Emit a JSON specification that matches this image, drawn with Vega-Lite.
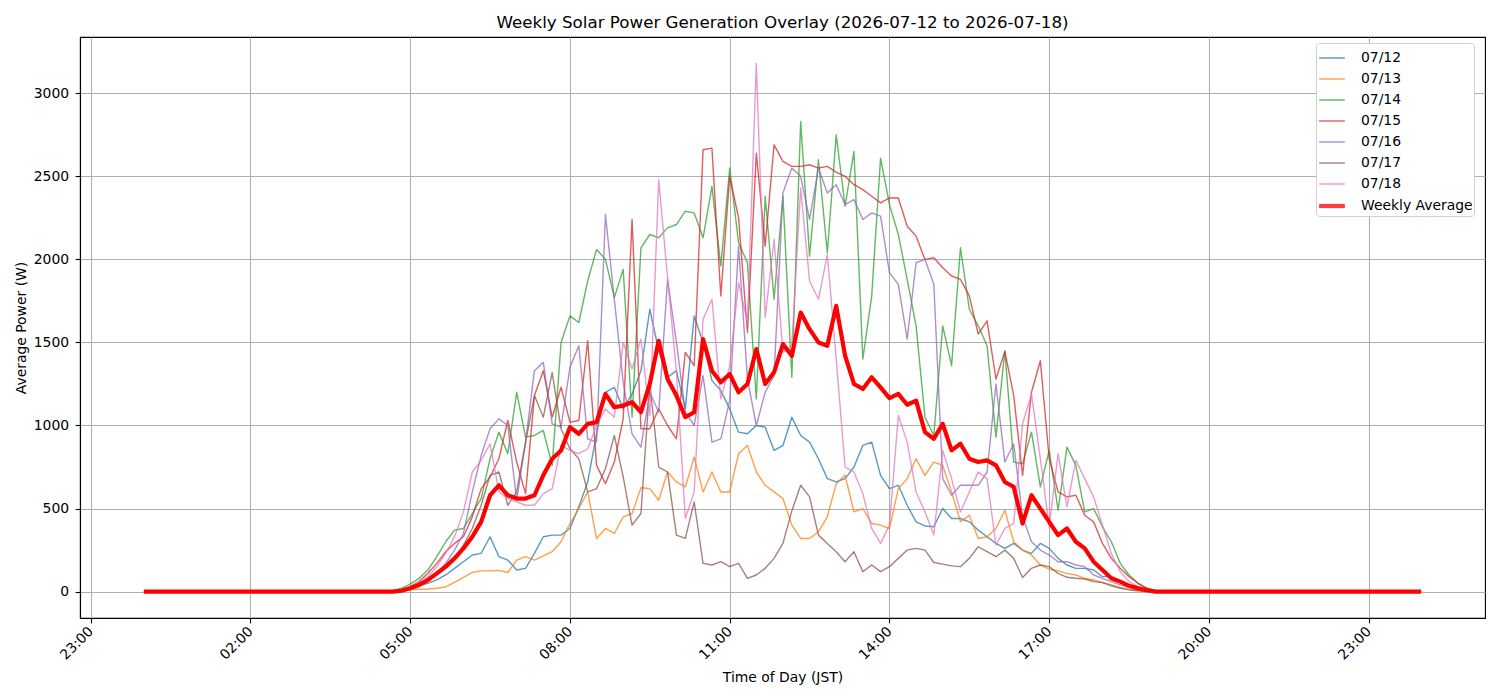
{
  "$schema": "https://vega.github.io/schema/vega-lite/v6.json",
  "width": 1405,
  "height": 581,
  "autosize": {"type": "none"},
  "padding": {"left": 80, "top": 37, "right": 15, "bottom": 82},
  "background": "white",
  "title": {"text": "Weekly Solar Power Generation Overlay (2026-07-12 to 2026-07-18)", "font": "DejaVu Sans", "fontSize": 16.7, "fontWeight": "normal", "color": "black", "anchor": "middle", "offset": 5},
  "data": {
    "format": {"parse": {"t": "date:'%H:%M'"}},
    "values": [
      {"t": "00:00", "07/12": 0, "07/13": 0, "07/14": 0, "07/15": 0, "07/16": 0, "07/17": 0, "07/18": 0, "Weekly Average": 0},
      {"t": "04:30", "07/12": 0, "07/13": 0, "07/14": 0, "07/15": 0, "07/16": 0, "07/17": 0, "07/18": 0, "Weekly Average": 0},
      {"t": "04:40", "07/12": 0, "07/13": 0, "07/14": 5, "07/15": 0, "07/16": 0, "07/17": 0, "07/18": 0, "Weekly Average": 0},
      {"t": "04:50", "07/12": 5, "07/13": 3, "07/14": 20, "07/15": 10, "07/16": 5, "07/17": 5, "07/18": 10, "Weekly Average": 5},
      {"t": "05:00", "07/12": 20, "07/13": 12, "07/14": 45, "07/15": 30, "07/16": 20, "07/17": 20, "07/18": 25, "Weekly Average": 20},
      {"t": "05:10", "07/12": 35, "07/13": 14, "07/14": 80, "07/15": 60, "07/16": 40, "07/17": 40, "07/18": 50, "Weekly Average": 40},
      {"t": "05:20", "07/12": 50, "07/13": 16, "07/14": 130, "07/15": 110, "07/16": 70, "07/17": 70, "07/18": 90, "Weekly Average": 70},
      {"t": "05:30", "07/12": 70, "07/13": 20, "07/14": 210, "07/15": 170, "07/16": 110, "07/17": 100, "07/18": 150, "Weekly Average": 110},
      {"t": "05:40", "07/12": 100, "07/13": 28, "07/14": 300, "07/15": 240, "07/16": 170, "07/17": 140, "07/18": 230, "Weekly Average": 150},
      {"t": "05:50", "07/12": 140, "07/13": 55, "07/14": 370, "07/15": 290, "07/16": 250, "07/17": 200, "07/18": 330, "Weekly Average": 200},
      {"t": "06:00", "07/12": 180, "07/13": 86, "07/14": 380, "07/15": 330, "07/16": 350, "07/17": 280, "07/18": 480, "Weekly Average": 260},
      {"t": "06:10", "07/12": 220, "07/13": 115, "07/14": 470, "07/15": 450, "07/16": 600, "07/17": 380, "07/18": 720, "Weekly Average": 330},
      {"t": "06:20", "07/12": 230, "07/13": 125, "07/14": 560, "07/15": 620, "07/16": 820, "07/17": 520, "07/18": 790, "Weekly Average": 420},
      {"t": "06:30", "07/12": 330, "07/13": 125, "07/14": 800, "07/15": 690, "07/16": 980, "07/17": 700, "07/18": 890, "Weekly Average": 580},
      {"t": "06:40", "07/12": 210, "07/13": 128, "07/14": 960, "07/15": 800, "07/16": 1040, "07/17": 720, "07/18": 600, "Weekly Average": 640},
      {"t": "06:50", "07/12": 190, "07/13": 115, "07/14": 830, "07/15": 1030, "07/16": 1000, "07/17": 520, "07/18": 560, "Weekly Average": 580},
      {"t": "07:00", "07/12": 130, "07/13": 190, "07/14": 1200, "07/15": 780, "07/16": 550, "07/17": 600, "07/18": 540, "Weekly Average": 560},
      {"t": "07:10", "07/12": 140, "07/13": 210, "07/14": 930, "07/15": 590, "07/16": 900, "07/17": 900, "07/18": 520, "Weekly Average": 560},
      {"t": "07:20", "07/12": 230, "07/13": 190, "07/14": 940, "07/15": 1180, "07/16": 1330, "07/17": 1180, "07/18": 520, "Weekly Average": 580},
      {"t": "07:30", "07/12": 330, "07/13": 215, "07/14": 970, "07/15": 1330, "07/16": 1380, "07/17": 1050, "07/18": 590, "Weekly Average": 700},
      {"t": "07:40", "07/12": 340, "07/13": 240, "07/14": 760, "07/15": 1050, "07/16": 1010, "07/17": 1320, "07/18": 620, "Weekly Average": 800},
      {"t": "07:50", "07/12": 340, "07/13": 300, "07/14": 1500, "07/15": 1230, "07/16": 990, "07/17": 980, "07/18": 880, "Weekly Average": 850},
      {"t": "08:00", "07/12": 380, "07/13": 410, "07/14": 1660, "07/15": 1020, "07/16": 1350, "07/17": 860, "07/18": 850, "Weekly Average": 990},
      {"t": "08:10", "07/12": 510, "07/13": 500, "07/14": 1620, "07/15": 1030, "07/16": 1480, "07/17": 800, "07/18": 830, "Weekly Average": 950},
      {"t": "08:20", "07/12": 660, "07/13": 600, "07/14": 1870, "07/15": 1510, "07/16": 920, "07/17": 600, "07/18": 860, "Weekly Average": 1010},
      {"t": "08:30", "07/12": 950, "07/13": 320, "07/14": 2060, "07/15": 760, "07/16": 900, "07/17": 620, "07/18": 1000, "Weekly Average": 1020},
      {"t": "08:40", "07/12": 1200, "07/13": 380, "07/14": 2000, "07/15": 650, "07/16": 2270, "07/17": 740, "07/18": 1100, "Weekly Average": 1190},
      {"t": "08:50", "07/12": 1230, "07/13": 350, "07/14": 1770, "07/15": 780, "07/16": 1760, "07/17": 940, "07/18": 1050, "Weekly Average": 1110},
      {"t": "09:00", "07/12": 1100, "07/13": 450, "07/14": 1940, "07/15": 1040, "07/16": 1260, "07/17": 690, "07/18": 1500, "Weekly Average": 1120},
      {"t": "09:10", "07/12": 1190, "07/13": 470, "07/14": 1050, "07/15": 2240, "07/16": 950, "07/17": 400, "07/18": 1340, "Weekly Average": 1140},
      {"t": "09:20", "07/12": 1330, "07/13": 625, "07/14": 2070, "07/15": 980, "07/16": 870, "07/17": 470, "07/18": 1520, "Weekly Average": 1080},
      {"t": "09:30", "07/12": 1700, "07/13": 620, "07/14": 2150, "07/15": 980, "07/16": 1200, "07/17": 1250, "07/18": 1060, "Weekly Average": 1250},
      {"t": "09:40", "07/12": 1450, "07/13": 550, "07/14": 2130, "07/15": 1100, "07/16": 1080, "07/17": 750, "07/18": 2480, "Weekly Average": 1510},
      {"t": "09:50", "07/12": 1290, "07/13": 720, "07/14": 2190, "07/15": 1000, "07/16": 1880, "07/17": 720, "07/18": 1890, "Weekly Average": 1280},
      {"t": "10:00", "07/12": 1330, "07/13": 660, "07/14": 2210, "07/15": 920, "07/16": 1500, "07/17": 340, "07/18": 1320, "Weekly Average": 1180},
      {"t": "10:10", "07/12": 1100, "07/13": 630, "07/14": 2290, "07/15": 1440, "07/16": 1080, "07/17": 320, "07/18": 440, "Weekly Average": 1050},
      {"t": "10:20", "07/12": 1660, "07/13": 810, "07/14": 2280, "07/15": 1360, "07/16": 1000, "07/17": 540, "07/18": 600, "Weekly Average": 1080},
      {"t": "10:30", "07/12": 1500, "07/13": 600, "07/14": 2130, "07/15": 2660, "07/16": 1300, "07/17": 170, "07/18": 1640, "Weekly Average": 1520},
      {"t": "10:40", "07/12": 1270, "07/13": 720, "07/14": 2440, "07/15": 2670, "07/16": 900, "07/17": 160, "07/18": 1760, "Weekly Average": 1330},
      {"t": "10:50", "07/12": 1210, "07/13": 600, "07/14": 1960, "07/15": 1780, "07/16": 920, "07/17": 180, "07/18": 1160, "Weekly Average": 1260},
      {"t": "11:00", "07/12": 1100, "07/13": 600, "07/14": 2550, "07/15": 2500, "07/16": 1150, "07/17": 150, "07/18": 1360, "Weekly Average": 1310},
      {"t": "11:10", "07/12": 960, "07/13": 830, "07/14": 2100, "07/15": 2250, "07/16": 2080, "07/17": 170, "07/18": 1860, "Weekly Average": 1200},
      {"t": "11:20", "07/12": 950, "07/13": 880, "07/14": 1980, "07/15": 1560, "07/16": 1280, "07/17": 80, "07/18": 1620, "Weekly Average": 1250},
      {"t": "11:30", "07/12": 1000, "07/13": 720, "07/14": 1160, "07/15": 2640, "07/16": 1000, "07/17": 100, "07/18": 3180, "Weekly Average": 1460},
      {"t": "11:40", "07/12": 990, "07/13": 640, "07/14": 2380, "07/15": 2080, "07/16": 1200, "07/17": 140, "07/18": 1650, "Weekly Average": 1250},
      {"t": "11:50", "07/12": 850, "07/13": 600, "07/14": 1760, "07/15": 2690, "07/16": 1300, "07/17": 200, "07/18": 2120, "Weekly Average": 1320},
      {"t": "12:00", "07/12": 880, "07/13": 560, "07/14": 2380, "07/15": 2590, "07/16": 2400, "07/17": 290, "07/18": 1440, "Weekly Average": 1490},
      {"t": "12:10", "07/12": 1050, "07/13": 400, "07/14": 1290, "07/15": 2560, "07/16": 2550, "07/17": 486, "07/18": 1480, "Weekly Average": 1420},
      {"t": "12:20", "07/12": 940, "07/13": 320, "07/14": 2830, "07/15": 2560, "07/16": 2500, "07/17": 640, "07/18": 2430, "Weekly Average": 1680},
      {"t": "12:30", "07/12": 900, "07/13": 320, "07/14": 2020, "07/15": 2570, "07/16": 2240, "07/17": 570, "07/18": 1870, "Weekly Average": 1580},
      {"t": "12:40", "07/12": 800, "07/13": 360, "07/14": 2600, "07/15": 2550, "07/16": 2550, "07/17": 340, "07/18": 1760, "Weekly Average": 1500},
      {"t": "12:50", "07/12": 680, "07/13": 450, "07/14": 2040, "07/15": 2560, "07/16": 2400, "07/17": 290, "07/18": 2030, "Weekly Average": 1480},
      {"t": "13:00", "07/12": 660, "07/13": 650, "07/14": 2750, "07/15": 2525, "07/16": 2450, "07/17": 240, "07/18": 1400, "Weekly Average": 1720},
      {"t": "13:10", "07/12": 680, "07/13": 700, "07/14": 2320, "07/15": 2500, "07/16": 2330, "07/17": 180, "07/18": 750, "Weekly Average": 1420},
      {"t": "13:20", "07/12": 750, "07/13": 480, "07/14": 2650, "07/15": 2450, "07/16": 2360, "07/17": 240, "07/18": 720, "Weekly Average": 1250},
      {"t": "13:30", "07/12": 880, "07/13": 500, "07/14": 1400, "07/15": 2420, "07/16": 2240, "07/17": 120, "07/18": 590, "Weekly Average": 1220},
      {"t": "13:40", "07/12": 900, "07/13": 410, "07/14": 1780, "07/15": 2380, "07/16": 2280, "07/17": 160, "07/18": 380, "Weekly Average": 1290},
      {"t": "13:50", "07/12": 700, "07/13": 400, "07/14": 2610, "07/15": 2340, "07/16": 2260, "07/17": 120, "07/18": 290, "Weekly Average": 1230},
      {"t": "14:00", "07/12": 620, "07/13": 380, "07/14": 2330, "07/15": 2370, "07/16": 1920, "07/17": 150, "07/18": 400, "Weekly Average": 1165},
      {"t": "14:10", "07/12": 640, "07/13": 620, "07/14": 2150, "07/15": 2370, "07/16": 1850, "07/17": 200, "07/18": 1060, "Weekly Average": 1190},
      {"t": "14:20", "07/12": 520, "07/13": 680, "07/14": 1880, "07/15": 2200, "07/16": 1520, "07/17": 250, "07/18": 900, "Weekly Average": 1125},
      {"t": "14:30", "07/12": 420, "07/13": 800, "07/14": 1600, "07/15": 2140, "07/16": 1980, "07/17": 260, "07/18": 600, "Weekly Average": 1150},
      {"t": "14:40", "07/12": 395, "07/13": 700, "07/14": 1050, "07/15": 2000, "07/16": 2000, "07/17": 250, "07/18": 480, "Weekly Average": 960},
      {"t": "14:50", "07/12": 390, "07/13": 780, "07/14": 940, "07/15": 2010, "07/16": 1850, "07/17": 175, "07/18": 340, "Weekly Average": 920},
      {"t": "15:00", "07/12": 500, "07/13": 760, "07/14": 1600, "07/15": 1950, "07/16": 680, "07/17": 165, "07/18": 850, "Weekly Average": 1010},
      {"t": "15:10", "07/12": 440, "07/13": 600, "07/14": 1360, "07/15": 1900, "07/16": 580, "07/17": 155, "07/18": 680, "Weekly Average": 850},
      {"t": "15:20", "07/12": 440, "07/13": 420, "07/14": 2070, "07/15": 1880, "07/16": 640, "07/17": 150, "07/18": 480, "Weekly Average": 890},
      {"t": "15:30", "07/12": 420, "07/13": 460, "07/14": 1700, "07/15": 1780, "07/16": 640, "07/17": 200, "07/18": 600, "Weekly Average": 800},
      {"t": "15:40", "07/12": 370, "07/13": 320, "07/14": 1600, "07/15": 1550, "07/16": 640, "07/17": 270, "07/18": 720, "Weekly Average": 780},
      {"t": "15:50", "07/12": 330, "07/13": 330, "07/14": 1480, "07/15": 1630, "07/16": 720, "07/17": 240, "07/18": 680, "Weekly Average": 790},
      {"t": "16:00", "07/12": 290, "07/13": 380, "07/14": 930, "07/15": 1280, "07/16": 1250, "07/17": 210, "07/18": 280, "Weekly Average": 760},
      {"t": "16:10", "07/12": 260, "07/13": 490, "07/14": 1450, "07/15": 1446, "07/16": 780, "07/17": 250, "07/18": 380, "Weekly Average": 660},
      {"t": "16:20", "07/12": 290, "07/13": 300, "07/14": 780, "07/15": 1180, "07/16": 890, "07/17": 200, "07/18": 410, "Weekly Average": 630},
      {"t": "16:30", "07/12": 250, "07/13": 250, "07/14": 770, "07/15": 700, "07/16": 450, "07/17": 85, "07/18": 1010, "Weekly Average": 410},
      {"t": "16:40", "07/12": 230, "07/13": 220, "07/14": 960, "07/15": 1200, "07/16": 300, "07/17": 140, "07/18": 1190, "Weekly Average": 580},
      {"t": "16:50", "07/12": 290, "07/13": 160, "07/14": 630, "07/15": 1390, "07/16": 250, "07/17": 160, "07/18": 800, "Weekly Average": 500},
      {"t": "17:00", "07/12": 260, "07/13": 135, "07/14": 850, "07/15": 800, "07/16": 220, "07/17": 150, "07/18": 390, "Weekly Average": 420},
      {"t": "17:10", "07/12": 200, "07/13": 125, "07/14": 490, "07/15": 600, "07/16": 180, "07/17": 110, "07/18": 830, "Weekly Average": 340},
      {"t": "17:20", "07/12": 160, "07/13": 110, "07/14": 870, "07/15": 570, "07/16": 180, "07/17": 86, "07/18": 510, "Weekly Average": 380},
      {"t": "17:30", "07/12": 140, "07/13": 100, "07/14": 760, "07/15": 580, "07/16": 160, "07/17": 80, "07/18": 790, "Weekly Average": 300},
      {"t": "17:40", "07/12": 140, "07/13": 80, "07/14": 480, "07/15": 460, "07/16": 150, "07/17": 76, "07/18": 680, "Weekly Average": 260},
      {"t": "17:50", "07/12": 130, "07/13": 70, "07/14": 500, "07/15": 420, "07/16": 100, "07/17": 60, "07/18": 570, "Weekly Average": 180},
      {"t": "18:00", "07/12": 90, "07/13": 55, "07/14": 390, "07/15": 290, "07/16": 80, "07/17": 54, "07/18": 400, "Weekly Average": 130},
      {"t": "18:10", "07/12": 90, "07/13": 40, "07/14": 300, "07/15": 200, "07/16": 60, "07/17": 35, "07/18": 230, "Weekly Average": 80},
      {"t": "18:20", "07/12": 60, "07/13": 25, "07/14": 170, "07/15": 140, "07/16": 40, "07/17": 20, "07/18": 120, "Weekly Average": 60},
      {"t": "18:30", "07/12": 35, "07/13": 15, "07/14": 100, "07/15": 90, "07/16": 25, "07/17": 10, "07/18": 60, "Weekly Average": 35},
      {"t": "18:40", "07/12": 15, "07/13": 6, "07/14": 50, "07/15": 50, "07/16": 10, "07/17": 5, "07/18": 30, "Weekly Average": 20},
      {"t": "18:50", "07/12": 5, "07/13": 2, "07/14": 20, "07/15": 20, "07/16": 3, "07/17": 0, "07/18": 10, "Weekly Average": 8},
      {"t": "19:00", "07/12": 0, "07/13": 0, "07/14": 5, "07/15": 5, "07/16": 0, "07/17": 0, "07/18": 0, "Weekly Average": 0},
      {"t": "19:10", "07/12": 0, "07/13": 0, "07/14": 0, "07/15": 0, "07/16": 0, "07/17": 0, "07/18": 0, "Weekly Average": 0},
      {"t": "23:59", "07/12": 0, "07/13": 0, "07/14": 0, "07/15": 0, "07/16": 0, "07/17": 0, "07/18": 0, "Weekly Average": 0}
    ]
  },
  "encoding": {
    "x": {
      "field": "t", "type": "temporal", "title": "Time of Day (JST)",
      "scale": {"domain": [{"year": 1899, "month": 12, "date": 31, "hours": 22, "minutes": 48}, {"year": 1900, "month": 1, "date": 2, "hours": 1, "minutes": 11}]},
      "axis": {
        "values": [
          {"year": 1899, "month": 12, "date": 31, "hours": 23},
          {"year": 1900, "month": 1, "date": 1, "hours": 2},
          {"year": 1900, "month": 1, "date": 1, "hours": 5},
          {"year": 1900, "month": 1, "date": 1, "hours": 8},
          {"year": 1900, "month": 1, "date": 1, "hours": 11},
          {"year": 1900, "month": 1, "date": 1, "hours": 14},
          {"year": 1900, "month": 1, "date": 1, "hours": 17},
          {"year": 1900, "month": 1, "date": 1, "hours": 20},
          {"year": 1900, "month": 1, "date": 1, "hours": 23}
        ],
        "format": "%H:%M", "labelAngle": -45, "labelAlign": "right", "labelBaseline": "middle", "labelPadding": 6
      }
    },
    "y": {
      "field": "W", "type": "quantitative", "title": "Average Power (W)",
      "scale": {"domain": [-159, 3339], "nice": false, "zero": false},
      "axis": {"values": [0, 500, 1000, 1500, 2000, 2500, 3000], "format": "d", "labelPadding": 6.5}
    },
    "color": {
      "field": "day", "type": "nominal",
      "scale": {"domain": ["07/12", "07/13", "07/14", "07/15", "07/16", "07/17", "07/18", "Weekly Average"], "range": ["#1f77b4", "#ff7f0e", "#2ca02c", "#d62728", "#9467bd", "#8c564b", "#e377c2", "#ff0000"]}
    },
    "strokeWidth": {
      "field": "day", "type": "nominal",
      "scale": {"type": "ordinal", "domain": ["07/12", "07/13", "07/14", "07/15", "07/16", "07/17", "07/18", "Weekly Average"], "range": [1.4, 1.4, 1.4, 1.4, 1.4, 1.4, 1.4, 4.2]}
    }
  },
  "layer": [
    {
      "transform": [{"fold": ["07/12", "07/13", "07/14", "07/15", "07/16", "07/17", "07/18"], "as": ["day", "W"]}],
      "mark": {"type": "line", "opacity": 0.75, "strokeJoin": "round"}
    },
    {
      "transform": [{"fold": ["Weekly Average"], "as": ["day", "W"]}],
      "mark": {"type": "line", "strokeJoin": "round"}
    }
  ],
  "config": {
    "font": "DejaVu Sans",
    "view": {"stroke": "black", "strokeWidth": 1.1},
    "axis": {"labelFont": "DejaVu Sans", "labelFontSize": 13.9, "labelColor": "black", "titleFont": "DejaVu Sans", "titleFontSize": 13.9, "titleFontWeight": "normal", "titleColor": "black", "tickColor": "black", "tickSize": 4.9, "tickWidth": 1.1, "domainColor": "black", "domainWidth": 1.1, "grid": true, "gridColor": "#b0b0b0", "gridWidth": 1.1, "gridOpacity": 1, "labelPadding": 3.5},
    "axisY": {"titlePadding": 5},
    "axisX": {"titlePadding": 8},
    "legend": {"title": null, "orient": "none", "legendX": 1236, "legendY": 6, "fillColor": "white", "strokeColor": "#d0d0d0", "strokeWidth": 1, "cornerRadius": 3, "padding": 1, "labelFont": "DejaVu Sans", "labelFontSize": 13.9, "labelColor": "black", "symbolType": "stroke", "symbolSize": 660, "rowPadding": 0, "labelOffset": 14}
  }
}
